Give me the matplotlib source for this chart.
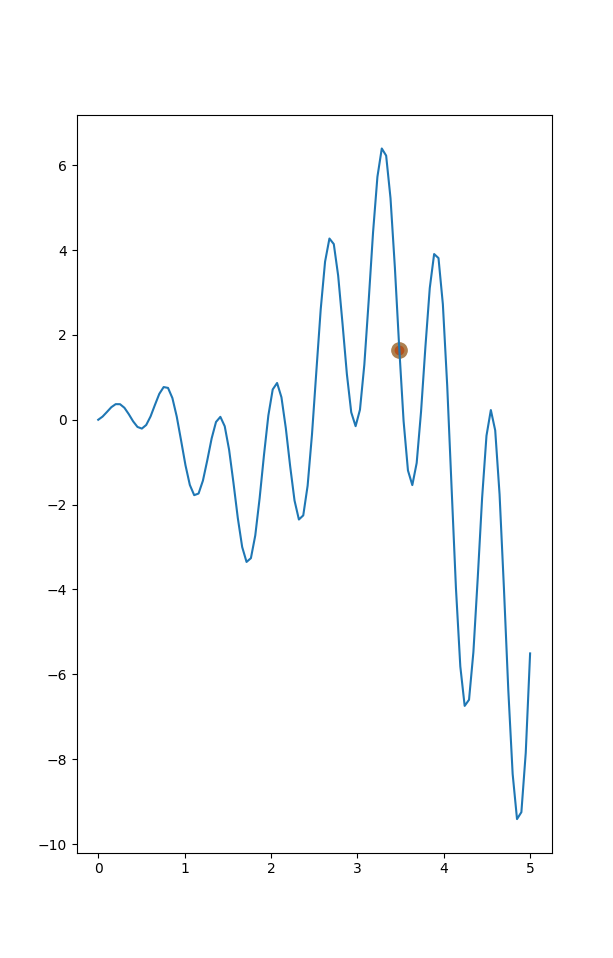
import matplotlib
matplotlib.use("Agg")
import matplotlib.pyplot as plt
import numpy as np

# 100 samples evenly spaced between 0 and 5
x_start = 0
x_end = 5
n_puntos = 100

# valores
valores_y = [
    0.000, 0.075, 0.184, 0.296, 0.368, 0.367, 0.283, 0.133, -0.037, -0.169,
    -0.208, -0.123, 0.079, 0.350, 0.611, 0.771, 0.751, 0.513, 0.075, -0.491,
    -1.071, -1.536, -1.777, -1.739, -1.435, -0.955, -0.440, -0.052, 0.069, -0.153,
    -0.706, -1.485, -2.318, -3.000, -3.351, -3.262, -2.726, -1.849, -0.828, 0.101,
    0.715, 0.867, 0.530, -0.196, -1.097, -1.904, -2.351, -2.254, -1.555, -0.349,
    1.139, 2.602, 3.726, 4.272, 4.141, 3.398, 2.267, 1.076, 0.175, -0.151,
    0.237, 1.299, 2.809, 4.417, 5.726, 6.394, 6.226, 5.223, 3.592, 1.696,
    -0.032, -1.195, -1.540, -1.018, 0.189, 1.717, 3.104, 3.906, 3.811, 2.725,
    0.800, -1.597, -3.969, -5.813, -6.744, -6.599, -5.476, -3.721, -1.840, -0.376,
    0.229, -0.250, -1.760, -3.973, -6.368, -8.351, -9.412, -9.249, -7.851, -5.507,
]

# punto marcado sobre la curva
punto_x = [3.487]
punto_y = [1.635]

x = np.linspace(x_start, x_end, n_puntos)
y = np.array(valores_y)

fig, ax = plt.subplots(figsize=(6.13, 9.58), dpi=100)
ax.plot(punto_x, punto_y, "o", color="#ad8050", markersize=11, zorder=1)   # halo
ax.plot(punto_x, punto_y, "o", color="#b4521d", markersize=6, zorder=1.5)  # centro
ax.plot(x, y, color="#1f77b4", zorder=2)

fig.savefig("out.png", dpi=100)
